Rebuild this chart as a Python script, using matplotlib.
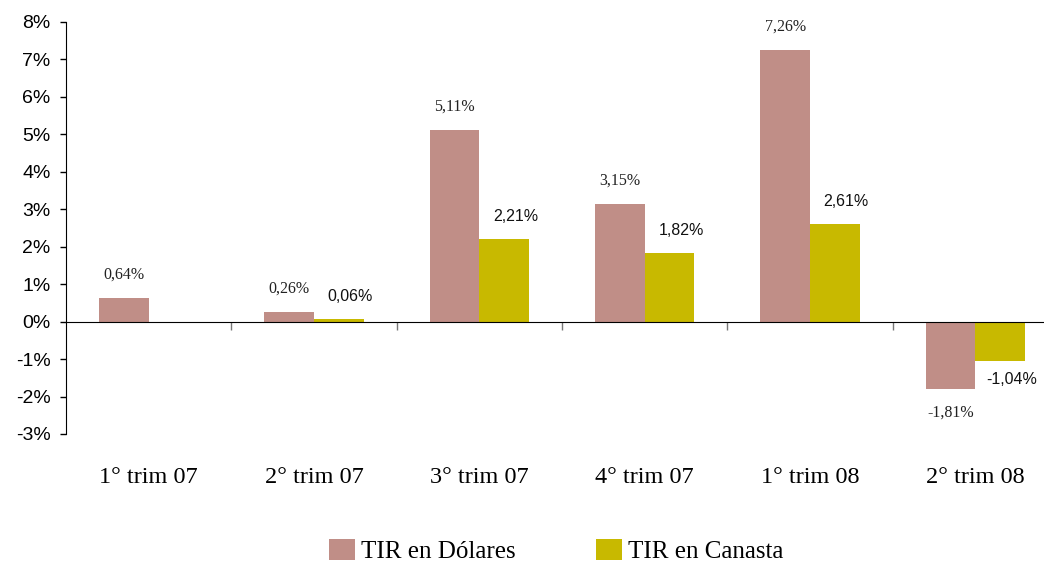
import matplotlib.pyplot as plt
import numpy as np
from matplotlib.ticker import FuncFormatter

categorias = ['1° trim 07', '2° trim 07', '3° trim 07', '4° trim 07', '1° trim 08', '2° trim 08']
tir_dolares = [0.64, 0.26, 5.11, 3.15, 7.26, -1.81]
tir_canasta = [None, 0.06, 2.21, 1.82, 2.61, -1.04]

col_dol = '#C08E87'
col_can = '#C8B900'
serif = ['Liberation Serif', 'DejaVu Serif']
sans = ['Liberation Sans', 'DejaVu Sans']

fig = plt.figure(figsize=(10.44, 5.62), dpi=100)
# the last category runs a little past the right edge, as in the original
ax = fig.add_axes([66 / 1044, 1 - 434 / 562, (1058 - 66) / 1044, 412 / 562])

x = np.arange(len(categorias))
w = 0.3
can_vals = [v if v is not None else 0 for v in tir_canasta]
b1 = ax.bar(x - w / 2, tir_dolares, w, color=col_dol, label='TIR en Dólares')
b2 = ax.bar(x + w / 2, can_vals, w, color=col_can, label='TIR en Canasta')

def etiqueta(v):
    return ('%.2f%%' % v).replace('.', ',')

for xi, v in zip(x, tir_dolares):
    off = 0.62 if v >= 0 else -0.62
    ax.text(xi - w / 2, v + off, etiqueta(v), ha='center', va='center',
            fontsize=11.5, family=serif, color='#222222')
for xi, v in zip(x, tir_canasta):
    if v is None:
        continue
    off = 0.6 if v >= 0 else -0.5
    ax.text(xi + w / 2 + 0.07, v + off, etiqueta(v), ha='center', va='center',
            fontsize=11.5, family=sans, color='#111111')

for xi, c in zip(x, categorias):
    ax.text(xi, -0.105, c, transform=ax.get_xaxis_transform(), ha='center',
            va='center', fontsize=17.5, family=serif)

ax.set_xlim(-0.5, len(categorias) - 0.5)
ax.set_ylim(-3, 8)
ax.set_yticks(np.arange(-3, 9, 1))
ax.yaxis.set_major_formatter(FuncFormatter(lambda v, p: '%d%%' % v))
for t in ax.get_yticklabels():
    t.set_family(sans)
    t.set_fontsize(14)
ax.tick_params(axis='y', length=4, width=1, pad=7)

ax.spines['top'].set_visible(False)
ax.spines['right'].set_visible(False)
ax.spines['bottom'].set_position(('data', 0))
ax.set_xticks(x[:-1] + 0.5)
ax.set_xticklabels([])
ax.tick_params(axis='x', length=6, width=1, color='#777777')

fig.legend(handles=[b1, b2], loc='center', bbox_to_anchor=(556 / 1044, 1 - 551 / 562),
           ncol=2, frameon=False, prop={'family': serif, 'size': 18},
           handlelength=1.05, handleheight=0.95, handletextpad=0.25, columnspacing=3.2)

fig.savefig('out.png', dpi=100)
